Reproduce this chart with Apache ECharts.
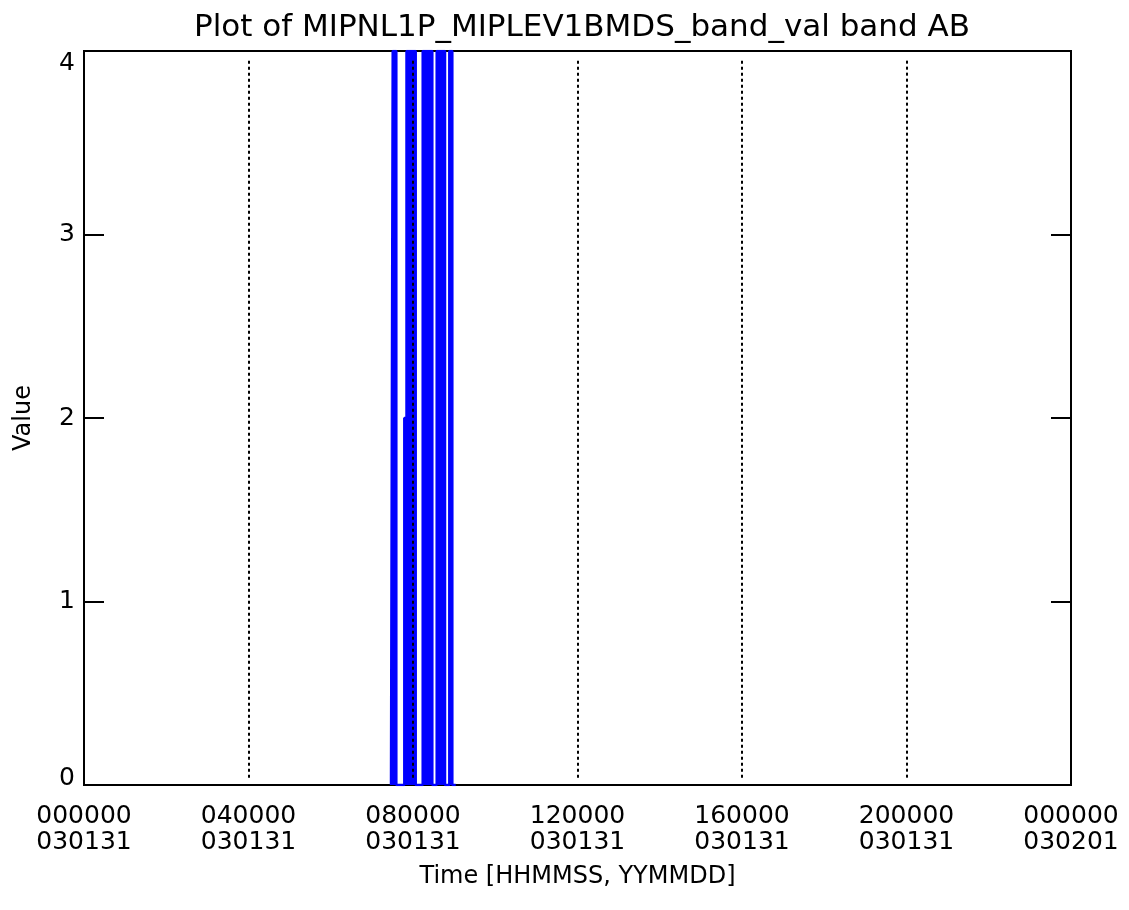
<!DOCTYPE html>
<html>
<head>
<meta charset="utf-8">
<script src="https://cdn.jsdelivr.net/npm/echarts@6/dist/echarts.min.js"></script>
<style>
  html, body { margin: 0; padding: 0; background: #fff; }
  #chart { width: 1129px; height: 910px; }
</style>
</head>
<body>
<div id="chart"></div>
<script>
// band value samples, time as HHMMSS on 030131
var times = ['072755', '073024', '073539', '074719', '075032', '080357', '081410',
             '082810', '083435', '084642', '085258', '085721', '090219'];
var values = [0, 4, 0, 2, 4, 0, 4, 0, 4, 0, 4, 0, 0];

// x tick labels (every 4 hours)
var tickTimes = ['000000', '040000', '080000', '120000', '160000', '200000', '000000'];
var tickDates = ['030131', '030131', '030131', '030131', '030131', '030131', '030201'];
var gridHours = [4, 8, 12, 16, 20];

function toSec(s) {
    return (+s.slice(0, 2)) * 3600 + (+s.slice(2, 4)) * 60 + (+s.slice(4, 6));
}

var seriesData = times.map(function (t, i) { return [toSec(t), values[i]]; });

var font = 'DejaVu Sans';
var myChart = echarts.init(document.getElementById('chart'));
myChart.setOption({
    animation: false,
    backgroundColor: '#fff',
    title: {
        text: 'Plot of MIPNL1P_MIPLEV1BMDS_band_val band AB',
        left: 577,
        textAlign: 'center',
        top: 7,
        textStyle: { fontFamily: font, fontSize: 31, fontWeight: 'normal', color: '#000' }
    },
    grid: {
        left: 84,
        right: 58,
        top: 51,
        bottom: 125,
        show: true,
        borderColor: '#000',
        borderWidth: 2,
        backgroundColor: 'transparent'
    },
    xAxis: {
        type: 'value',
        min: 0,
        max: 86400,
        interval: 14400,
        name: 'Time [HHMMSS, YYMMDD]',
        nameLocation: 'middle',
        nameGap: 80,
        nameTextStyle: { fontFamily: font, fontSize: 24, color: '#000' },
        axisLine: { show: false },
        axisTick: { show: false },
        splitLine: { show: false },
        axisLabel: {
            margin: 18,
            fontFamily: font,
            fontSize: 25,
            lineHeight: 26,
            color: '#000',
            formatter: function (v) {
                var i = Math.round(v / 14400);
                return tickTimes[i] + '\n' + tickDates[i];
            }
        }
    },
    yAxis: [
        {
            type: 'value',
            min: 0,
            max: 4,
            interval: 1,
            name: 'Value',
            nameLocation: 'middle',
            nameGap: 48,
            nameTextStyle: { fontFamily: font, fontSize: 24, color: '#000' },
            axisLine: { show: false },
            axisTick: { show: true, inside: true, length: 20, lineStyle: { color: '#000', width: 2 } },
            splitLine: { show: false },
            axisLabel: {
                margin: 9,
                fontFamily: font,
                fontSize: 25,
                color: '#000',
                formatter: function (v) {
                    if (v === 4) return '{top|' + v + '}';
                    if (v === 0) return '{bot|' + v + '}';
                    return '' + v;
                },
                rich: {
                    top: { fontFamily: font, fontSize: 25, color: '#000', padding: [24, 0, 0, 0] },
                    bot: { fontFamily: font, fontSize: 25, color: '#000', padding: [0, 0, 14, 0] }
                }
            }
        },
        {
            type: 'value',
            min: 0,
            max: 4,
            interval: 1,
            position: 'right',
            axisLine: { show: false },
            axisTick: { show: true, inside: true, length: 20, lineStyle: { color: '#000', width: 2 } },
            axisLabel: { show: false },
            splitLine: { show: false }
        }
    ],
    series: [
        {
            type: 'line',
            data: seriesData,
            step: 'end',
            symbol: 'none',
            silent: true,
            lineStyle: { color: '#0000ff', width: 2.5 },
            areaStyle: { color: '#0000ff', opacity: 1 },
            markLine: {
                silent: true,
                symbol: 'none',
                label: { show: false },
                lineStyle: { color: '#000', width: 2, type: [3, 3] },
                data: gridHours.map(function (h) {
                    return [{ coord: [h * 3600, 0.04] }, { coord: [h * 3600, 3.96] }];
                })
            }
        }
    ]
});
</script>
</body>
</html>
